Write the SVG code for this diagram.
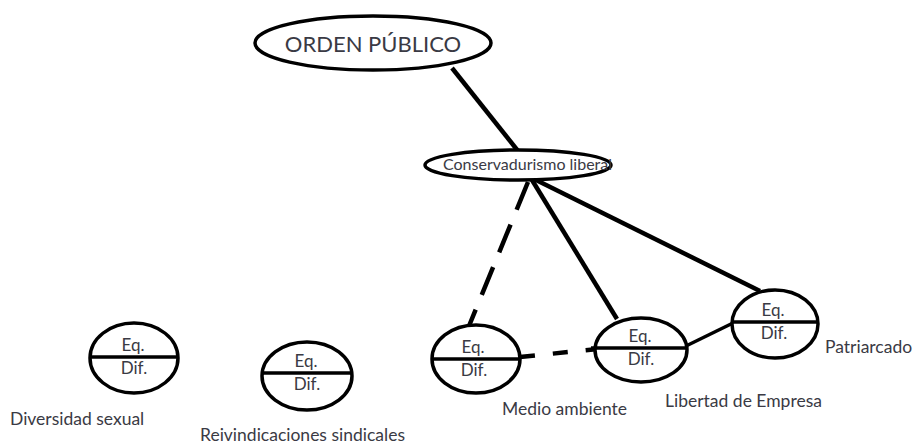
<svg xmlns="http://www.w3.org/2000/svg" width="921" height="446" viewBox="0 0 921 446">
<style>
.sh{fill:#fff;stroke:#000;stroke-width:3.5}
.dv{stroke:#000;stroke-width:3.5}
.t{font-family:Lato,"Open Sans","Liberation Sans",sans-serif;fill:#3a3a44}
.c{text-anchor:middle}
.lb{font-size:17.5px}
.eq{font-size:17px;text-anchor:middle}
.ed{fill:none;stroke:#000;stroke-width:4.5;stroke-linecap:butt}
</style>
<rect width="921" height="446" fill="#fff"/>
<g id="connectors">
<line class="ed" x1="452" y1="68" x2="518" y2="151"/>
<line class="ed" x1="528" y1="182" x2="469" y2="326" stroke-dasharray="30 16"/>
<line class="ed" x1="532" y1="180" x2="617" y2="319"/>
<line class="ed" x1="534" y1="179" x2="760" y2="291"/>
<line class="ed" x1="520" y1="357" x2="598" y2="349" stroke-dasharray="15 18"/>
<line class="ed" x1="686" y1="346" x2="733" y2="323" style="stroke-width:3.5"/>
</g>
<g id="orden">
<ellipse class="sh" cx="373" cy="43" rx="118" ry="27"/>
<text class="t c" x="373" y="52" font-size="22">ORDEN PÚBLICO</text>
</g>
<g id="conservadurismo">
<ellipse class="sh" cx="518" cy="165" rx="93" ry="15"/>
<text class="t" x="443" y="170" font-size="16">Conservadurismo liberal</text>
</g>
<g id="diversidad">
<ellipse class="sh" cx="134" cy="358" rx="44" ry="35"/>
<line class="dv" x1="90" y1="357" x2="178" y2="357"/>
<text class="t eq" x="133" y="351">Eq.</text>
<text class="t eq" x="134" y="374">Dif.</text>
<text class="t lb" x="10" y="425">Diversidad sexual</text>
</g>
<g id="reivindicaciones">
<ellipse class="sh" cx="307" cy="376" rx="45" ry="34"/>
<line class="dv" x1="262" y1="373" x2="352" y2="373"/>
<text class="t eq" x="306" y="367">Eq.</text>
<text class="t eq" x="307" y="390">Dif.</text>
<text class="t lb" x="200" y="441">Reivindicaciones sindicales</text>
</g>
<g id="medio">
<ellipse class="sh" cx="476" cy="359" rx="44" ry="34"/>
<line class="dv" x1="432" y1="359" x2="520" y2="359"/>
<text class="t eq" x="473" y="353">Eq.</text>
<text class="t eq" x="474" y="376">Dif.</text>
<text class="t lb" x="502" y="415">Medio ambiente</text>
</g>
<g id="libertad">
<ellipse class="sh" cx="641" cy="350" rx="46" ry="32"/>
<line class="dv" x1="591" y1="348" x2="687" y2="348"/>
<text class="t eq" x="640" y="342">Eq.</text>
<text class="t eq" x="641" y="365">Dif.</text>
<text class="t lb" x="665" y="407">Libertad de Empresa</text>
</g>
<g id="patriarcado">
<ellipse class="sh" cx="775" cy="324" rx="43" ry="34"/>
<line class="dv" x1="732" y1="322" x2="818" y2="322"/>
<text class="t eq" x="773" y="316">Eq.</text>
<text class="t eq" x="774" y="339">Dif.</text>
<text class="t lb" x="825" y="353">Patriarcado</text>
</g>
</svg>
